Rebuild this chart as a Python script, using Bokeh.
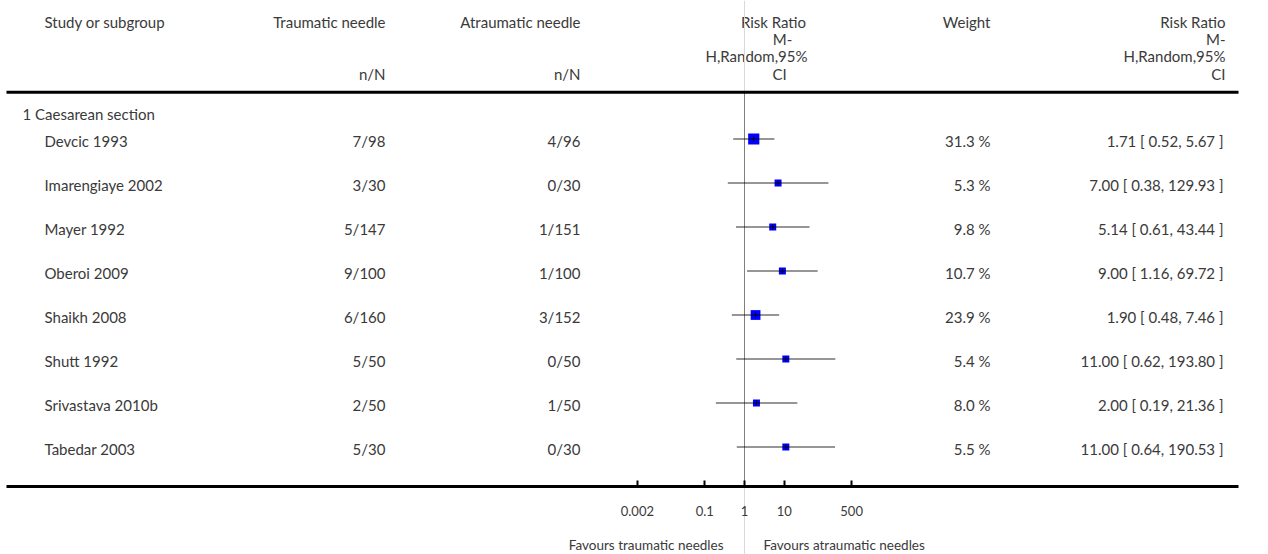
import numpy as np
from bokeh.plotting import figure
from bokeh.models import Range1d, LogAxis, FixedTicker, CustomJSTickFormatter
from bokeh.core.properties import value
from bokeh.embed import file_html
from bokeh.resources import INLINE

# ---------------- data ----------------
subgroup = "1 Caesarean section"
studies = ["Devcic 1993", "Imarengiaye 2002", "Mayer 1992", "Oberoi 2009",
           "Shaikh 2008", "Shutt 1992", "Srivastava 2010b", "Tabedar 2003"]
trauma_n = [7, 3, 5, 9, 6, 5, 2, 5]
trauma_N = [98, 30, 147, 100, 160, 50, 50, 30]
atrau_n = [4, 0, 1, 1, 3, 0, 1, 0]
atrau_N = [96, 30, 151, 100, 152, 50, 50, 30]
weights = [31.3, 5.3, 9.8, 10.7, 23.9, 5.4, 8.0, 5.5]
rr = [1.71, 7.00, 5.14, 9.00, 1.90, 11.00, 2.00, 11.00]
rr_lo = [0.52, 0.38, 0.61, 1.16, 0.48, 0.62, 0.19, 0.64]
rr_hi = [5.67, 129.93, 43.44, 69.72, 7.46, 193.80, 21.36, 190.53]
ticks = [0.002, 0.1, 1, 10, 500]
fav_left = "Favours traumatic needles"
fav_right = "Favours atraumatic needles"

# ---------------- layout helpers ----------------
W, H = 1268, 554
K = 39.7      # pixels per decade
X1 = 744.0    # x pixel of the null value 1


def px(xp):
    """x-pixel -> data value on the log scale"""
    return 10 ** ((xp - X1) / K)


FONT = value("Lato")
TXT = "#3a3a3a"
FS = "15px"

p = figure(width=W, height=H, output_backend="svg", toolbar_location=None,
           x_axis_type="log", x_axis_location=None, y_axis_location=None,
           x_range=Range1d(px(0), px(W)), y_range=Range1d(H, 0),
           min_border=0, outline_line_color=None)
p.grid.visible = False

nrow = len(studies)
row_y = [138.5 + 44 * i for i in range(nrow)]
txt_y = [y + 1.5 for y in row_y]


def txt(x, y, t, align="left", size=FS, color=TXT):
    p.text(x=x, y=y, text=t, text_align=align, text_baseline="middle",
           text_font=FONT, text_font_size=size, text_color=color)


# header
txt([px(44)], [21], ["Study or subgroup"])
txt([px(385)], [21], ["Traumatic needle"], "right")
txt([px(580)], [21], ["Atraumatic needle"], "right")
txt([px(385), px(580)], [73, 73], ["n/N", "n/N"], "right")
txt([px(773), px(782), px(756), px(779)], [21, 38, 55, 73],
    ["Risk Ratio", "M-", "H,Random,95%", "CI"], "center")
txt([px(990)], [21], ["Weight"], "right")
txt([px(1225)] * 4, [21, 38, 55, 73],
    ["Risk Ratio", "M-", "H,Random,95%", "CI"], "right")

# subgroup + rows
txt([px(22)], [113], [subgroup])
txt([px(44)] * nrow, txt_y, studies)
txt([px(385)] * nrow, txt_y, [f"{a}/{b}" for a, b in zip(trauma_n, trauma_N)], "right")
txt([px(580)] * nrow, txt_y, [f"{a}/{b}" for a, b in zip(atrau_n, atrau_N)], "right")
txt([px(990)] * nrow, txt_y, [f"{w:.1f} %" for w in weights], "right")
txt([px(1223)] * nrow, txt_y,
    [f"{r:.2f} [ {l:.2f}, {h:.2f} ]" for r, l, h in zip(rr, rr_lo, rr_hi)], "right")

# null line
p.segment(x0=[1], x1=[1], y0=[0], y1=[H], line_color="#d9d9d9", line_width=1)
p.segment(x0=[1], x1=[1], y0=[92], y1=[486], line_color="#7f7f7f", line_width=1)

# header / bottom rules
p.segment(x0=[px(6)] * 2, x1=[px(1238)] * 2, y0=[91.7, 486], y1=[91.7, 486],
          line_color="black", line_width=3)

# forest marks
sizes = [max(7.0, 2 * np.sqrt(w)) for w in weights]
p.scatter(x=rr, y=row_y, size=sizes, marker="square",
          fill_color="#0000ff", line_color=None)
p.segment(x0=rr_lo, x1=rr_hi, y0=row_y, y1=row_y,
          line_color="black", line_alpha=0.55, line_width=1.5)
p.scatter(x=rr, y=row_y, size=5, marker="dash", angle=np.pi / 2,
          line_color="black", line_width=1)

# axis (log scale) drawn at the bottom rule
ax = LogAxis(fixed_location=486,
             ticker=FixedTicker(ticks=ticks, minor_ticks=[]),
             formatter=CustomJSTickFormatter(code="return tick.toString();"),
             axis_line_color=None, major_tick_in=6, major_tick_out=0,
             major_tick_line_width=2, major_tick_line_color="black",
             minor_tick_line_color=None, major_label_standoff=19,
             major_label_text_font="Lato", major_label_text_font_size="13px",
             major_label_text_color=TXT)
p.add_layout(ax, "below")

txt([px(723)], [544], [fav_left], "right", "13.5px")
txt([px(763)], [544], [fav_right], "left", "13.5px")

open("out.html", "w").write(file_html(p, INLINE))
